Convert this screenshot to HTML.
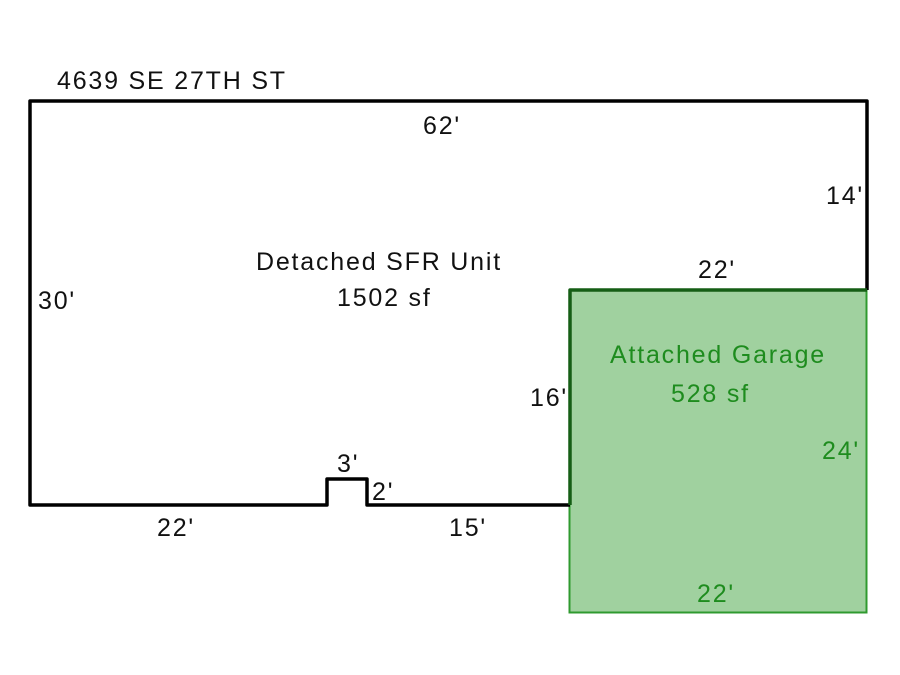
<!DOCTYPE html>
<html><head><meta charset="utf-8"><style>
html,body{margin:0;padding:0;background:#fff;}
svg{display:block;}
text{font-family:"Liberation Sans",Arial,sans-serif;font-size:25px;letter-spacing:1.8px;}
</style></head><body>
<svg width="900" height="675" viewBox="0 0 900 675" xmlns="http://www.w3.org/2000/svg">
<rect width="900" height="675" fill="#fff"/>
<rect x="569.5" y="290.5" width="297" height="322" fill="#a0d19f" stroke="#2f9a2f" stroke-width="2"/>
<polyline points="867,290 867,101 30,101 30,505 327,505 327,479 367,479 367,505 570,505" fill="none" stroke="#000" stroke-width="3.5" stroke-linejoin="round"/>
<polyline points="570,505 570,290 867,290" fill="none" stroke="#155e15" stroke-width="3.5" stroke-linejoin="round"/>
<g fill="#111">
<text x="57" y="89">4639 SE 27TH ST</text>
<text x="423" y="134">62'</text>
<text x="826" y="204">14'</text>
<text x="698" y="278">22'</text>
<text x="38" y="309">30'</text>
<text x="256" y="270">Detached SFR Unit</text>
<text x="337" y="306">1502 sf</text>
<text x="530" y="406">16'</text>
<text x="337" y="472">3'</text>
<text x="372" y="500">2'</text>
<text x="157" y="536">22'</text>
<text x="449" y="536">15'</text>
</g>
<g fill="#1e8c1e">
<text x="610" y="363">Attached Garage</text>
<text x="671" y="402">528 sf</text>
<text x="822" y="459">24'</text>
<text x="697" y="602">22'</text>
</g>
</svg>
</body></html>
